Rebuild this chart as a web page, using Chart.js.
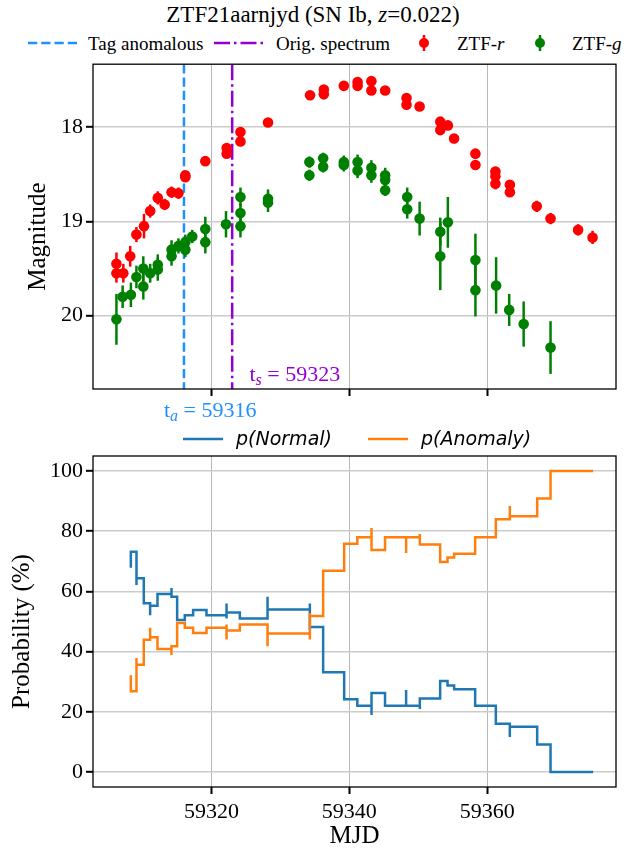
<!DOCTYPE html>
<html>
<head>
<meta charset="utf-8">
<script src="https://cdn.jsdelivr.net/npm/chart.js@4.4.1/dist/chart.umd.min.js"></script>
<style>
  body { margin: 0; width: 626px; height: 856px; background: #fff; position: relative; overflow: hidden; font-family: "Liberation Serif", serif; color: #000; }
  canvas { position: absolute; left: 0; }
  #lc { top: 48px; }
  #prob { top: 430px; }
  .txt { position: absolute; white-space: nowrap; line-height: 1; }
  #title { top: 3px; left: 0; width: 626px; text-align: center; font-size: 23px; }
  .leg { font-size: 19px; top: 34px; }
  .leg2 { font-family: "DejaVu Sans", sans-serif; font-style: italic; font-size: 19px; top: 429px; }
  svg { position: absolute; overflow: visible; }
</style>
</head>
<body>
<div class="txt" id="title">ZTF21aarnjyd (SN Ib, <i>z</i>=0.022)</div>

<!-- top legend -->
<svg style="left:28px;top:43px" width="50" height="1"><line x1="0" y1="0" x2="50" y2="0" stroke="#1e90ff" stroke-width="2.5" stroke-dasharray="9.25 4"/></svg>
<div class="txt leg" style="left:88px">Tag anomalous</div>
<svg style="left:214px;top:43px" width="50" height="1"><line x1="0" y1="0" x2="50" y2="0" stroke="#9400d3" stroke-width="2.5" stroke-dasharray="16 4 2.5 4"/></svg>
<div class="txt leg" style="left:276px">Orig. spectrum</div>
<svg style="left:424px;top:43px" width="1" height="1"><line x1="0" y1="-8" x2="0" y2="8" stroke="red" stroke-width="2.5"/><circle cx="0" cy="0" r="5" fill="red"/></svg>
<div class="txt leg" style="left:457px">ZTF-<i>r</i></div>
<svg style="left:540px;top:43px" width="1" height="1"><line x1="0" y1="-8" x2="0" y2="8" stroke="green" stroke-width="2.5"/><circle cx="0" cy="0" r="5" fill="green"/></svg>
<div class="txt leg" style="left:572px">ZTF-<i>g</i></div>

<canvas id="lc" width="626" height="380"></canvas>
<canvas id="prob" width="626" height="426"></canvas>

<!-- bottom legend -->
<svg style="left:183px;top:439px" width="40" height="1"><line x1="0" y1="0" x2="40" y2="0" stroke="#1f77b4" stroke-width="2.5"/></svg>
<div class="txt leg2" style="left:236px">p(Normal)</div>
<svg style="left:368px;top:439px" width="40" height="1"><line x1="0" y1="0" x2="40" y2="0" stroke="#ff7f0e" stroke-width="2.5"/></svg>
<div class="txt leg2" style="left:421px">p(Anomaly)</div>

<script>
// ZTF-r photometry
const rMjd = [59306.2, 59306.2, 59307.2, 59308.2, 59309.1, 59310.2, 59311.1, 59312.2, 59313.2, 59314.2,
  59315.2, 59316.2, 59316.2, 59319.1, 59322.2, 59322.2, 59324.2, 59324.2, 59328.2, 59334.3,
  59336.3, 59336.3, 59339.2, 59341.2, 59341.2, 59343.2, 59343.2, 59345.2, 59348.3, 59348.3,
  59350.2, 59353.2, 59353.2, 59354.3, 59355.2, 59358.3, 59358.3, 59361.2, 59361.2, 59361.2,
  59363.3, 59363.3, 59367.2, 59369.2, 59373.2, 59375.3];
const rMag = [19.45, 19.55, 19.55, 19.37, 19.14, 19.05, 18.89, 18.75, 18.82, 18.69,
  18.70, 18.51, 18.53, 18.36, 18.22, 18.28, 18.05, 18.15, 17.95, 17.66,
  17.60, 17.65, 17.56, 17.52, 17.56, 17.51, 17.61, 17.61, 17.69, 17.76,
  17.78, 17.94, 18.03, 17.98, 18.12, 18.28, 18.40, 18.47, 18.52, 18.60,
  18.61, 18.69, 18.84, 18.97, 19.09, 19.17];
const rErr = [0.12, 0.10, 0.10, 0.11, 0.08, 0.13, 0.07, 0.07, 0.06, 0.06,
  0.06, 0.04, 0.04, 0.05, 0.05, 0.04, 0.04, 0.04, 0.03, 0.03,
  0.03, 0.03, 0.04, 0.03, 0.03, 0.03, 0.03, 0.03, 0.03, 0.04,
  0.04, 0.04, 0.04, 0.05, 0.05, 0.05, 0.05, 0.05, 0.05, 0.06,
  0.05, 0.05, 0.06, 0.06, 0.06, 0.07];

// ZTF-g photometry
const gMjd = [59306.2, 59307.1, 59308.3, 59309.1, 59310.1, 59310.1, 59311.1, 59312.2, 59312.2, 59314.2,
  59314.2, 59315.2, 59316.2, 59316.2, 59317.2, 59319.1, 59319.1, 59322.1, 59324.2, 59324.2,
  59324.2, 59328.2, 59328.2, 59334.2, 59334.2, 59336.2, 59336.2, 59339.2, 59339.2, 59341.2,
  59341.2, 59343.2, 59343.2, 59345.2, 59345.2, 59345.2, 59348.4, 59348.4, 59350.2, 59353.2,
  59353.2, 59354.3, 59358.3, 59358.3, 59361.3, 59363.2, 59365.3, 59369.2];
const gMag = [20.04, 19.80, 19.78, 19.59, 19.69, 19.50, 19.55, 19.51, 19.46, 19.37,
  19.30, 19.26, 19.30, 19.22, 19.16, 19.08, 19.22, 19.03, 18.74, 18.91,
  19.05, 18.76, 18.80, 18.37, 18.51, 18.33, 18.42, 18.37, 18.40, 18.37,
  18.46, 18.43, 18.51, 18.51, 18.56, 18.67, 18.74, 18.87, 18.97, 19.11,
  19.37, 19.01, 19.41, 19.73, 19.68, 19.94, 20.09, 20.34];
const gErr = [0.27, 0.12, 0.13, 0.12, 0.14, 0.13, 0.10, 0.12, 0.11, 0.10,
  0.10, 0.08, 0.08, 0.08, 0.07, 0.13, 0.12, 0.14, 0.10, 0.10,
  0.12, 0.10, 0.10, 0.06, 0.06, 0.06, 0.06, 0.07, 0.07, 0.08,
  0.08, 0.08, 0.08, 0.08, 0.08, 0.06, 0.10, 0.10, 0.18, 0.15,
  0.36, 0.27, 0.28, 0.28, 0.30, 0.17, 0.24, 0.28];

// classifier output after each observation
const probMjd = [59308.29, 59309.11, 59309.11, 59310.17, 59311.09, 59311.09, 59312.16, 59314.19, 59314.19, 59315.01,
  59316.12, 59317.33, 59319.27, 59322.18, 59322.18, 59322.18, 59324.11, 59328.13, 59328.13, 59334.27,
  59334.27, 59334.27, 59336.20, 59339.25, 59341.16, 59343.22, 59343.22, 59345.18, 59348.24, 59348.24,
  59350.23, 59350.23, 59353.18, 59354.25, 59355.21, 59358.26, 59361.26, 59363.29, 59363.29, 59367.26,
  59369.20, 59375.38];
const pNormal = [67.9, 73.2, 62.1, 64.4, 56.1, 52.1, 55.2, 59.1, 61.1, 58.2,
  50.5, 52.1, 53.8, 52.1, 51.0, 56.0, 53.0, 51.0, 58.2, 54.0,
  56.0, 47.2, 48.2, 33.1, 24.2, 22.0, 18.9, 26.2, 22.0, 27.2,
  22.0, 20.9, 24.4, 30.2, 28.7, 27.5, 22.0, 16.0, 11.6, 15.0,
  9.1, 0.0];
const pAnomaly = [32.1, 26.8, 37.9, 35.6, 43.9, 47.9, 44.8, 40.9, 38.9, 41.8,
  49.5, 47.9, 46.2, 47.9, 49.0, 44.0, 47.0, 49.0, 41.8, 46.0,
  44.0, 52.8, 51.8, 66.9, 75.8, 78.0, 81.1, 73.8, 78.0, 72.8,
  78.0, 79.1, 75.6, 69.8, 71.3, 72.5, 78.0, 84.0, 88.4, 85.0,
  90.9, 100.0];

const tAnomalous = 59316;
const tSpectrum = 59323;
const mjdTicks = [59320, 59340, 59360];
const magTicks = [18, 19, 20];
const probTicks = [0, 20, 40, 60, 80, 100];

const SERIF = '"Liberation Serif", serif';
const TAG_COLOR = '#1e90ff';
const SPEC_COLOR = '#9400d3';

const toPts = (xs, ys) => xs.map((x, i) => ({ x: x, y: ys[i] }));
const fixTicks = (vals) => (axis) => { axis.ticks = vals.map((v) => ({ value: v })); };
const plain = (v) => String(v);

// draw a box around the plot area like matplotlib spines
const frame = {
  id: 'frame',
  afterDatasetsDraw(chart) {
    const { ctx, chartArea: a } = chart;
    ctx.save();
    ctx.strokeStyle = '#000';
    ctx.lineWidth = 1.3;
    ctx.strokeRect(a.left, a.top, a.right - a.left, a.bottom - a.top);
    ctx.restore();
  },
};

// rotated y label, sits a little below the axes centre as in the original
function yLabel(text, x, shift) {
  return {
    id: 'yLabel',
    afterDraw(chart) {
      const { ctx, chartArea: a } = chart;
      ctx.save();
      ctx.translate(x, (a.top + a.bottom) / 2 + shift);
      ctx.rotate(-Math.PI / 2);
      ctx.fillStyle = '#000';
      ctx.textAlign = 'center';
      ctx.textBaseline = 'middle';
      ctx.font = '25px ' + SERIF;
      ctx.fillText(text, 0, 0);
      ctx.restore();
    },
  };
}

// vertical error bars for datasets carrying an `errors` array
const errorBars = {
  id: 'errorBars',
  beforeDatasetDraw(chart, args) {
    const ds = chart.data.datasets[args.index];
    if (!ds.errors) return;
    const ys = chart.scales.y;
    const ctx = chart.ctx;
    ctx.save();
    ctx.strokeStyle = ds.backgroundColor;
    ctx.lineWidth = 2.5;
    args.meta.data.forEach((pt, i) => {
      const v = ds.data[i].y;
      const e = ds.errors[i];
      ctx.beginPath();
      ctx.moveTo(pt.x, ys.getPixelForValue(v - e));
      ctx.lineTo(pt.x, ys.getPixelForValue(v + e));
      ctx.stroke();
    });
    ctx.restore();
  },
};

function drawSubLabel(ctx, x, y, sub, rest, color) {
  ctx.fillStyle = color;
  ctx.textAlign = 'left';
  ctx.textBaseline = 'alphabetic';
  ctx.font = '22px ' + SERIF;
  ctx.fillText('t', x, y);
  let w = ctx.measureText('t').width;
  ctx.font = 'italic 16px ' + SERIF;
  ctx.fillText(sub, x + w, y + 4);
  w += ctx.measureText(sub).width;
  ctx.font = '22px ' + SERIF;
  ctx.fillText(rest, x + w, y);
}

// tag / spectrum vertical lines and their labels
const markers = {
  id: 'markers',
  beforeDatasetsDraw(chart) {
    const { ctx, chartArea: a } = chart;
    const xs = chart.scales.x;
    ctx.save();
    ctx.lineWidth = 2.5;
    ctx.strokeStyle = TAG_COLOR;
    ctx.setLineDash([9.25, 4]);
    let px = xs.getPixelForValue(tAnomalous);
    ctx.beginPath(); ctx.moveTo(px, a.top); ctx.lineTo(px, a.bottom); ctx.stroke();
    ctx.strokeStyle = SPEC_COLOR;
    ctx.setLineDash([16, 4, 2.5, 4]);
    px = xs.getPixelForValue(tSpectrum);
    ctx.beginPath(); ctx.moveTo(px, a.top); ctx.lineTo(px, a.bottom); ctx.stroke();
    ctx.restore();
  },
  afterDraw(chart) {
    const { ctx, chartArea: a } = chart;
    const xs = chart.scales.x;
    ctx.save();
    drawSubLabel(ctx, xs.getPixelForValue(tSpectrum + 2.5), a.bottom - 8, 's', ' = ' + tSpectrum, SPEC_COLOR);
    drawSubLabel(ctx, xs.getPixelForValue(tAnomalous - 2.9), a.bottom + 28, 'a', ' = ' + tAnomalous, TAG_COLOR);
    ctx.restore();
  },
};

const gridX = { color: '#b8b8b8', lineWidth: 1, tickColor: '#000', tickWidth: 2, tickLength: 7 };
const gridY = { color: '#cbcbcb', lineWidth: 1.6, tickColor: '#000', tickWidth: 2, tickLength: 7 };
const tickFont = { family: SERIF, size: 22 };

new Chart(document.getElementById('lc'), {
  type: 'scatter',
  data: {
    datasets: [
      { label: 'ZTF-r', data: toPts(rMjd, rMag), errors: rErr, backgroundColor: 'red', borderColor: 'red', pointRadius: 5.3, borderWidth: 0 },
      { label: 'ZTF-g', data: toPts(gMjd, gMag), errors: gErr, backgroundColor: 'green', borderColor: 'green', pointRadius: 5.3, borderWidth: 0 },
    ],
  },
  options: {
    responsive: false,
    animation: false,
    layout: { padding: { top: 13, right: 10, left: 0, bottom: 0 } },
    plugins: { legend: { display: false }, tooltip: { enabled: false } },
    scales: {
      x: {
        type: 'linear', min: 59302.8, max: 59378.7,
        afterBuildTicks: fixTicks(mjdTicks),
        afterFit: (s) => { s.height = 39; },
        ticks: { display: false },
        grid: gridX,
        border: { display: false },
      },
      y: {
        reverse: true, min: 17.33, max: 20.78,
        afterBuildTicks: fixTicks(magTicks),
        afterFit: (s) => { s.width = 93; },
        ticks: { font: tickFont, color: '#000', padding: 3, callback: plain },
        grid: gridY,
        border: { display: false },
      },
    },
  },
  plugins: [markers, errorBars, frame, yLabel('Magnitude', 38, 10)],
});

new Chart(document.getElementById('prob'), {
  type: 'line',
  data: {
    datasets: [
      { label: 'p(Normal)', data: toPts(probMjd, pNormal), borderColor: '#1f77b4', backgroundColor: '#1f77b4', order: 2 },
      { label: 'p(Anomaly)', data: toPts(probMjd, pAnomaly), borderColor: '#ff7f0e', backgroundColor: '#ff7f0e', order: 1 },
    ],
  },
  options: {
    responsive: false,
    animation: false,
    layout: { padding: { top: 26, right: 10, left: 0, bottom: 0 } },
    elements: {
      line: { stepped: 'after', borderWidth: 2.5, fill: false, borderJoinStyle: 'miter', borderCapStyle: 'butt', tension: 0 },
      point: { radius: 0 },
    },
    plugins: { legend: { display: false }, tooltip: { enabled: false } },
    scales: {
      x: {
        type: 'linear', min: 59302.8, max: 59378.7,
        afterBuildTicks: fixTicks(mjdTicks),
        afterFit: (s) => { s.height = 69; },
        ticks: { font: tickFont, color: '#000', padding: 5, callback: plain },
        grid: gridX,
        border: { display: false },
        title: { display: true, text: 'MJD', color: '#000', font: { family: SERIF, size: 25 }, padding: { bottom: 5 } },
      },
      y: {
        min: -5, max: 105,
        afterBuildTicks: fixTicks(probTicks),
        afterFit: (s) => { s.width = 93; },
        ticks: { font: tickFont, color: '#000', padding: 3, callback: plain },
        grid: gridY,
        border: { display: false },
      },
    },
  },
  plugins: [frame, yLabel('Probability (%)', 22, 10)],
});
</script>
</body>
</html>
